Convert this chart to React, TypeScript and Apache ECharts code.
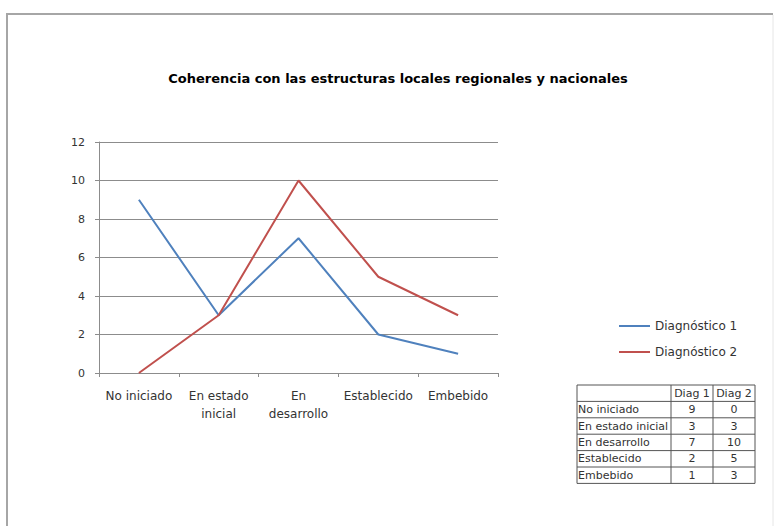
import React, { useEffect, useRef } from "react";
import * as echarts from "echarts";

const title = "Coherencia con las estructuras locales regionales y nacionales";
const categories = ["No iniciado", "En estado\ninicial", "En\ndesarrollo", "Establecido", "Embebido"];
const tableLabels = ["No iniciado", "En estado inicial", "En desarrollo", "Establecido", "Embebido"];
const seriesNames = ["Diagnóstico 1", "Diagnóstico 2"];
const tableHeaders = ["Diag 1", "Diag 2"];
const diag1 = [9, 3, 7, 2, 1];
const diag2 = [0, 3, 10, 5, 3];
const yTicks = { min: 0, max: 12, interval: 2 };

const FONT = "'DejaVu Sans', sans-serif";

export default function App() {
  const ref = useRef<HTMLDivElement>(null);
  useEffect(() => {
    if (!ref.current) return;
    const chart = echarts.init(ref.current, null, { renderer: "svg" });

    const colX = [577, 671, 713, 755];
    const rowTop = 385;
    const rowH = 16.4;
    const nRows = tableLabels.length + 1;
    const tableEls: any[] = [];
    const lineStyle = { stroke: "#555", lineWidth: 1 };
    for (let r = 0; r <= nRows; r++) {
      const y = rowTop + r * rowH;
      tableEls.push({ type: "line", shape: { x1: colX[0], y1: y, x2: colX[3], y2: y }, style: lineStyle });
    }
    for (let c = 0; c < colX.length; c++) {
      tableEls.push({
        type: "line",
        shape: { x1: colX[c], y1: rowTop, x2: colX[c], y2: rowTop + nRows * rowH },
        style: lineStyle,
      });
    }
    const tStyle = { fill: "#333", fontSize: 11, fontFamily: FONT };
    tableHeaders.forEach((h, i) => {
      tableEls.push({
        type: "text",
        x: (colX[i + 1] + colX[i + 2]) / 2,
        y: rowTop + rowH / 2,
        style: { ...tStyle, text: h, align: "center", verticalAlign: "middle" },
      });
    });
    tableLabels.forEach((lab, r) => {
      const cy = rowTop + (r + 1) * rowH + rowH / 2;
      tableEls.push({
        type: "text",
        x: colX[0] + 1,
        y: cy,
        style: { ...tStyle, text: lab, align: "left", verticalAlign: "middle", width: colX[1] - colX[0] - 2, overflow: "truncate", ellipsis: "" },
      });
      [diag1[r], diag2[r]].forEach((v, i) => {
        tableEls.push({
          type: "text",
          x: (colX[i + 1] + colX[i + 2]) / 2,
          y: cy,
          style: { ...tStyle, text: String(v), align: "center", verticalAlign: "middle" },
        });
      });
    });

    chart.setOption({
      animation: false,
      backgroundColor: "#ffffff",
      title: {
        text: title,
        left: 393,
        top: 67,
        textAlign: "center",
        textStyle: { fontFamily: FONT, fontSize: 13, fontWeight: "bold", color: "#000" },
      },
      legend: {
        orient: "vertical",
        left: 614,
        top: 315,
        itemWidth: 31,
        itemHeight: 2,
        itemGap: 14,
        icon: "rect",
        textStyle: { fontFamily: FONT, fontSize: 12, color: "#333" },
        data: seriesNames,
      },
      grid: { left: 99, right: 280, top: 142, bottom: 153, containLabel: false },
      xAxis: {
        type: "category",
        data: categories,
        axisLine: { lineStyle: { color: "#8c8c8c", width: 1 } },
        axisTick: { show: true, length: 4, lineStyle: { color: "#8c8c8c" } },
        axisLabel: { fontFamily: FONT, fontSize: 12, color: "#333", lineHeight: 18, margin: 14, interval: 0 },
      },
      yAxis: {
        type: "value",
        min: yTicks.min,
        max: yTicks.max,
        interval: yTicks.interval,
        axisLine: { show: true, lineStyle: { color: "#8c8c8c", width: 1 } },
        axisTick: { show: true, length: 4, lineStyle: { color: "#8c8c8c" } },
        axisLabel: { fontFamily: FONT, fontSize: 11, color: "#333", margin: 14 },
        splitLine: { lineStyle: { color: "#8c8c8c", width: 1 } },
      },
      series: [
        { name: seriesNames[0], type: "line", data: diag1, showSymbol: false, symbol: "none", lineStyle: { color: "#4F81BD", width: 2 }, itemStyle: { color: "#4F81BD" } },
        { name: seriesNames[1], type: "line", data: diag2, showSymbol: false, symbol: "none", lineStyle: { color: "#C0504D", width: 2 }, itemStyle: { color: "#C0504D" } },
      ],
      graphic: [
        { type: "line", shape: { x1: 6, y1: 14, x2: 773, y2: 14 }, style: { stroke: "#a6a6a6", lineWidth: 2 } },
        { type: "line", shape: { x1: 7, y1: 14, x2: 7, y2: 526 }, style: { stroke: "#a6a6a6", lineWidth: 2 } },
        { type: "line", shape: { x1: 773, y1: 15, x2: 773, y2: 526 }, style: { stroke: "#e6e6e6", lineWidth: 1 } },
        ...tableEls,
      ],
    });
    return () => chart.dispose();
  }, []);
  return <div ref={ref} style={{ position: "fixed", left: 0, top: 0, width: 778, height: 526 }} />;
}
